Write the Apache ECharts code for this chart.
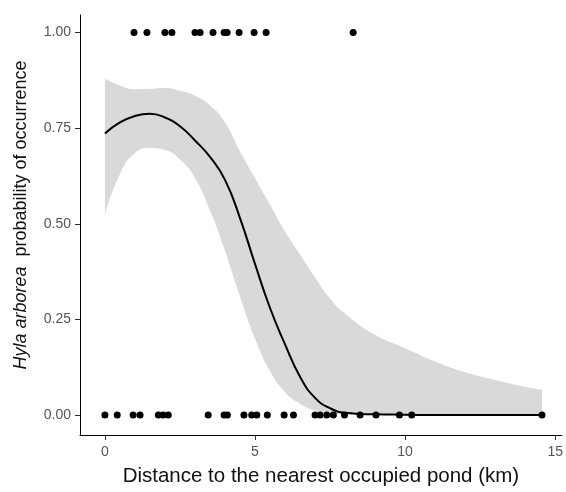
<!DOCTYPE html>
<html>
<head>
<meta charset="utf-8">
<script src="https://cdn.jsdelivr.net/npm/echarts@6/dist/echarts.min.js"></script>
<style>html,body{margin:0;padding:0;background:#fff}#c{width:566px;height:492px}</style>
</head>
<body>
<div id="c"></div>
<script>
// Observed data points (distance km, occurrence 0/1)
const presentX = [0.97, 1.4, 2.0, 2.23, 3.0, 3.17, 3.6, 3.97, 4.07, 4.47, 4.97, 5.37, 8.27];
const absentX = [0.0, 0.41, 0.94, 1.17, 1.78, 1.94, 2.11, 3.44, 3.97, 4.08, 4.63, 4.89, 5.06, 5.41, 5.97, 6.28, 7.0, 7.17, 7.39, 7.61, 7.98, 8.5, 9.03, 9.81, 10.22, 14.56];
// Fitted curve and confidence ribbon
const fitX =   [0, 0.5, 1, 1.5, 2, 2.5, 3, 3.5, 4, 4.5, 5, 5.5, 6, 6.5, 7, 7.5, 8, 9, 10, 11, 12, 13, 14, 14.56];
const fitY =   [0.736, 0.765, 0.782, 0.788, 0.778, 0.755, 0.718, 0.675, 0.615, 0.515, 0.395, 0.28, 0.185, 0.1, 0.045, 0.018, 0.006, 0.002, 0.001, 0, 0, 0, 0, 0];
const upperY = [0.88, 0.862, 0.852, 0.853, 0.855, 0.848, 0.835, 0.81, 0.765, 0.69, 0.62, 0.55, 0.48, 0.42, 0.36, 0.305, 0.265, 0.21, 0.175, 0.14, 0.112, 0.092, 0.074, 0.066];
const lowerY = [0.525, 0.63, 0.685, 0.698, 0.693, 0.668, 0.62, 0.535, 0.43, 0.31, 0.2, 0.115, 0.06, 0.03, 0.012, 0.005, 0.002, 0, 0, 0, 0, 0, 0, 0];
const xTicks = [0, 5, 10, 15];
const yTicks = [0, 0.25, 0.5, 0.75, 1];

const chart = echarts.init(document.getElementById('c'), null, {renderer: 'canvas'});
const pair = (xs, ys) => xs.map((x, i) => [x, ys[i]]);

chart.setOption({
  animation: false,
  grid: {left: 80, right: 4, top: 15, bottom: 57},
  xAxis: {
    type: 'value', min: -0.83, max: 15.22,
    name: 'Distance to the nearest occupied pond (km)',
    nameLocation: 'middle', nameGap: 31,
    nameTextStyle: {color: '#111', fontSize: 20.5, fontFamily: 'Liberation Sans'},
    axisLine: {show: true, onZero: false, lineStyle: {color: '#000', width: 1}},
    axisTick: {show: true, length: 5, lineStyle: {color: '#333'}, customValues: xTicks},
    axisLabel: {color: '#555', fontSize: 14, fontFamily: 'Liberation Sans', margin: 10, customValues: xTicks},
    splitLine: {show: false}
  },
  yAxis: {
    type: 'value', min: -0.052, max: 1.046,
    name: '{i|Hyla arborea}  probability of occurrence',
    nameLocation: 'middle', nameGap: 50, nameRotate: 90,
    nameTextStyle: {color: '#111', fontSize: 18, fontFamily: 'Liberation Sans', padding: [0, 0, 0, 20],
      rich: {i: {fontStyle: 'italic', fontSize: 18, color: '#111', fontFamily: 'Liberation Sans'}}},
    axisLine: {show: true, onZero: false, lineStyle: {color: '#000', width: 1}},
    axisTick: {show: true, length: 5, lineStyle: {color: '#333'}, customValues: yTicks},
    axisLabel: {color: '#555', fontSize: 14, fontFamily: 'Liberation Sans', margin: 9,
      customValues: yTicks, formatter: v => v.toFixed(2)},
    splitLine: {show: false}
  },
  series: [
    {type: 'line', data: pair(fitX, upperY), symbol: 'none', smooth: 0.5,
      lineStyle: {opacity: 0}, areaStyle: {color: '#d9d9d9', opacity: 1, origin: 'start'}, silent: true, z: 1},
    {type: 'line', data: pair(fitX, lowerY), symbol: 'none', smooth: 0.5,
      lineStyle: {opacity: 0}, areaStyle: {color: '#ffffff', opacity: 1, origin: 'start'}, silent: true, z: 2},
    {type: 'line', data: pair(fitX, fitY), symbol: 'none', smooth: 0.5,
      lineStyle: {color: '#000', width: 2}, z: 5},
    {type: 'scatter', data: presentX.map(x => [x, 1]), symbolSize: 7,
      itemStyle: {color: '#000', opacity: 1}, z: 6},
    {type: 'scatter', data: absentX.map(x => [x, 0]), symbolSize: 7,
      itemStyle: {color: '#000', opacity: 1}, z: 6}
  ]
});
</script>
</body>
</html>
